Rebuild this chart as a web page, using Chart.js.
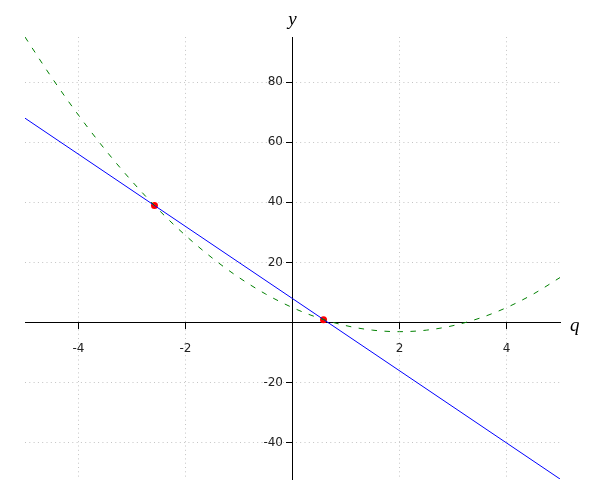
<!DOCTYPE html>
<html>
<head>
<meta charset="utf-8">
<script src="https://cdn.jsdelivr.net/npm/chart.js@4/dist/chart.umd.min.js"></script>
<style>
  html, body { margin: 0; padding: 0; background: #fff; }
  #wrap { width: 600px; height: 500px; }
</style>
</head>
<body>
<div id="wrap"><canvas id="plot"></canvas></div>
<script>
// parabola (q, y)
const curveQ = [-5, -4.5, -4, -3.5, -3, -2.5, -2, -1.5, -1, -0.5, 0, 0.5, 1, 1.5, 2, 2.5, 3, 3.5, 4, 4.5, 5];
const curveY = [95, 81.5, 69, 57.5, 47, 37.5, 29, 21.5, 15, 9.5, 5, 1.5, -1, -2.5, -3, -2.5, -1, 1.5, 5, 9.5, 15];

// straight line, end points
const lineQ = [-5, 5];
const lineY = [68, -52];

// the two red intersection points
const dotQ = [-2.58, 0.58];
const dotY = [39, 1];

const qTicks = [-4, -2, 2, 4];
const yTicks = [-40, -20, 20, 40, 60, 80];

function pts(xs, ys) {
    return xs.map((x, i) => ({ x: x, y: ys[i] }));
}

// y tick labels (Chart.js puts them on top of a centred axis) + italic axis names
const axisText = {
    id: 'axisText',
    afterDraw(chart) {
        const { ctx, scales: { x, y } } = chart;
        const x0 = x.getPixelForValue(0);
        ctx.save();
        ctx.fillStyle = '#222';
        ctx.font = '12px "DejaVu Sans"';
        ctx.textAlign = 'right';
        ctx.textBaseline = 'middle';
        yTicks.forEach(v => ctx.fillText(String(v), x0 - 9.5, y.getPixelForValue(v)));

        ctx.fillStyle = '#000';
        ctx.font = 'italic 19px "Liberation Serif"';
        ctx.textAlign = 'center';
        ctx.textBaseline = 'alphabetic';
        ctx.fillText('y', x0, y.top - 12);
        ctx.textAlign = 'left';
        ctx.fillText('q', x.right + 10, y.getPixelForValue(0) + 8);
        ctx.restore();
    }
};

const tickFont = { family: 'DejaVu Sans', size: 12 };

new Chart(document.getElementById('plot'), {
    type: 'scatter',
    data: {
        datasets: [
            {
                data: pts(curveQ, curveY),
                showLine: true,
                borderColor: '#008000',
                borderWidth: 1,
                borderDash: [5.5, 7.5],
                cubicInterpolationMode: 'monotone',
                pointRadius: 0
            },
            {
                data: pts(lineQ, lineY),
                showLine: true,
                borderColor: '#0000ff',
                borderWidth: 1,
                pointRadius: 0
            },
            {
                data: pts(dotQ, dotY),
                showLine: false,
                backgroundColor: '#ff0000',
                borderWidth: 0,
                pointRadius: 3.5
            }
        ]
    },
    options: {
        responsive: true,
        maintainAspectRatio: false,
        animation: false,
        layout: { padding: { left: 25, right: 40, top: 37, bottom: 21 } },
        plugins: {
            legend: { display: false },
            tooltip: { enabled: false }
        },
        scales: {
            x: {
                type: 'linear',
                min: -5,
                max: 5,
                position: { y: 0 },
                afterBuildTicks: s => { s.ticks = qTicks.map(v => ({ value: v })); },
                grid: { color: '#c4c4c4', tickLength: 6, tickColor: '#000', tickWidth: 1 },
                border: { display: true, color: '#000', width: 1, dash: [1, 3.3] },
                ticks: { font: tickFont, color: '#222', padding: 13, maxRotation: 0 }
            },
            y: {
                type: 'linear',
                min: -52,
                max: 95,
                position: { x: 0 },
                afterBuildTicks: s => { s.ticks = yTicks.map(v => ({ value: v })); },
                grid: { color: '#c4c4c4', tickLength: 6, tickColor: '#000', tickWidth: 1 },
                border: { display: true, color: '#000', width: 1, dash: [1, 3.3] },
                ticks: { display: false }
            }
        }
    },
    plugins: [axisText]
});
</script>
</body>
</html>
